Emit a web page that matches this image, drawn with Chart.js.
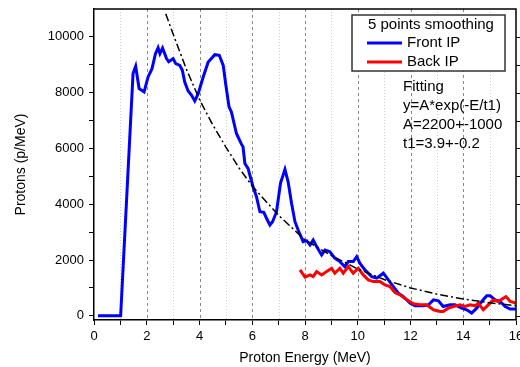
<!DOCTYPE html>
<html>
<head>
<meta charset="utf-8">
<script src="https://cdn.jsdelivr.net/npm/chart.js@4"></script>
<style>
  body { margin: 0; background: #fff; }
</style>
</head>
<body>
<canvas id="myChart" width="520" height="367"></canvas>
<script>
// Front IP, 5 points smoothing
frontE = [0.15,1.01,1.48,1.58,1.71,1.90,2.05,2.20,2.33,2.43,2.50,2.60,2.75,2.83,3.00,3.10,3.25,3.35,3.44,3.57,3.70,3.82,3.95,4.14,4.33,4.58,4.75,4.90,5.00,5.12,5.21,5.40,5.59,5.65,5.72,5.84,6.03,6.16,6.29,6.44,6.54,6.67,6.77,6.92,7.07,7.24,7.36,7.49,7.62,7.74,7.93,8.06,8.19,8.31,8.44,8.63,8.76,8.94,9.13,9.32,9.51,9.64,9.83,9.96,10.08,10.27,10.53,10.72,10.97,11.16,11.35,11.54,11.73,11.98,12.17,12.49,12.68,12.87,13.06,13.24,13.50,13.69,13.94,14.13,14.32,14.51,14.70,14.89,15.02,15.21,15.40,15.59,15.78,16.0]
frontV = [0,0,8685,8945,8147,8026,8563,8862,9400,9613,9400,9600,9220,9113,9220,9040,8980,8800,8383,8062,7907,7703,7967,8563,9100,9363,9340,8980,8265,7490,7310,6537,6154,6058,5463,5284,4627,4270,3732,3710,3496,3256,3375,3732,4748,5249,4806,4032,3375,3077,2660,2695,2540,2720,2480,2183,2360,2300,2064,1943,1764,1943,1943,2122,1885,1646,1406,1349,1528,1288,1048,812,690,454,358,358,394,572,537,333,394,394,275,215,97,275,512,716,716,572,512,333,240,240]

// Back IP
backE = [7.81,8.0,8.19,8.31,8.44,8.63,8.82,9.01,9.13,9.32,9.45,9.64,9.83,10.02,10.21,10.40,10.59,10.84,11.03,11.22,11.41,11.60,11.86,12.11,12.36,12.61,12.87,13.12,13.24,13.43,13.62,13.88,14.07,14.26,14.45,14.57,14.76,14.95,15.14,15.33,15.52,15.62,15.78,16.0]
backV = [1646,1384,1467,1406,1585,1467,1585,1706,1528,1706,1528,1764,1528,1706,1467,1288,1227,1227,1109,1048,834,751,572,429,394,394,215,154,154,275,333,394,333,394,358,454,215,394,572,512,633,690,512,454]

// fit curve
fitE = [2.72,3,3.5,4,4.5,5,5.5,6,7,8,9,10,11,12,13,14,15,16]
fitV = [10830,10100,8850,7750,6850,6050,5300,4650,3600,2720,2160,1680,1300,1000,780,600,470,360]

// ticks (labels only on the even ones)
xTicks = [0,1,2,3,4,5,6,7,8,9,10,11,12,13,14,15,16]
yTicks = [0,1000,2000,3000,4000,5000,6000,7000,8000,9000,10000]

fitText = ["Fitting", "y=A*exp(-E/t1)", "A=2200+-1000", "t1=3.9+-0.2"]

var FONT = "'Liberation Sans', Arial, sans-serif"

function pts(xs, ys) {
  return xs.map(function (x, i) { return {x: x, y: ys[i]} })
}

var framePlugin = {
  id: 'frame',
  beforeDatasetsDraw: function (chart) {
    var ctx = chart.ctx, a = chart.chartArea, xs = chart.scales.x
    ctx.save()
    xTicks.forEach(function (v) {
      if (v == 0 || v == 16) return
      var px = Math.round(xs.getPixelForValue(v)) + 0.5
      ctx.beginPath()
      if (v % 2 == 0) { ctx.strokeStyle = '#888'; ctx.setLineDash([3, 3]) }
      else { ctx.strokeStyle = '#d0d0d0'; ctx.setLineDash([1, 2]) }
      ctx.lineWidth = 1
      ctx.moveTo(px, a.top)
      ctx.lineTo(px, a.bottom)
      ctx.stroke()
    })
    ctx.restore()
  },
  afterDraw: function (chart) {
    var ctx = chart.ctx, a = chart.chartArea, ys = chart.scales.y
    ctx.save()
    ctx.strokeStyle = '#000'
    ctx.lineWidth = 1.5
    ctx.beginPath()
    ctx.moveTo(a.left, a.top)
    ctx.lineTo(a.right, a.top)
    ctx.lineTo(a.right, a.bottom)
    ctx.stroke()
    // right axis ticks
    ctx.lineWidth = 1
    yTicks.forEach(function (v) {
      var py = Math.round(ys.getPixelForValue(v)) + 0.5
      ctx.beginPath()
      ctx.moveTo(a.right, py)
      ctx.lineTo(a.right + 5, py)
      ctx.stroke()
    })

    // legend box
    ctx.fillStyle = '#fff'
    ctx.fillRect(352, 15, 153, 56)
    ctx.strokeStyle = '#333'
    ctx.lineWidth = 1.5
    ctx.strokeRect(352, 15, 153, 56)
    ctx.fillStyle = '#000'
    ctx.font = '15px ' + FONT
    ctx.textBaseline = 'middle'
    ctx.textAlign = 'left'
    ctx.fillText('5 points smoothing', 368, 25)
    var items = [chart.data.datasets[2], chart.data.datasets[1]]
    items.forEach(function (ds, i) {
      var y = 43 + i * 19
      ctx.strokeStyle = ds.borderColor
      ctx.lineWidth = 3
      ctx.beginPath()
      ctx.moveTo(367, y)
      ctx.lineTo(402, y)
      ctx.stroke()
      ctx.fillText(ds.label, 407, y)
    })
    fitText.forEach(function (t, i) {
      ctx.fillText(t, 403, 87 + i * 19)
    })
    ctx.restore()
  }
}

document.addEventListener('DOMContentLoaded', function () {
  var ctx = document.getElementById('myChart').getContext('2d')
  var myChart = new Chart(ctx, {
    type: 'line',
    data: {
      datasets: [
        {label: 'Fit', data: pts(fitE, fitV), borderColor: '#000', borderWidth: 1.5,
         borderDash: [8, 3, 2, 3], pointRadius: 0, tension: 0},
        {label: 'Back IP', data: pts(backE, backV), borderColor: '#ff0000', borderWidth: 3,
         pointRadius: 0, tension: 0},
        {label: 'Front IP', data: pts(frontE, frontV), borderColor: '#0000ff', borderWidth: 3,
         pointRadius: 0, tension: 0}
      ]
    },
    options: {
      responsive: false,
      animation: false,
      layout: {padding: {left: 0, right: 4, top: 9, bottom: 0}},
      plugins: {legend: {display: false}, tooltip: {enabled: false}},
      scales: {
        x: {
          type: 'linear', min: 0, max: 16,
          afterBuildTicks: function (s) { s.ticks = xTicks.map(function (v) { return {value: v} }) },
          ticks: {autoSkip: false, maxRotation: 0, padding: 4, color: '#000',
                  font: {family: FONT, size: 13},
                  callback: function (v) { return v % 2 == 0 ? String(v) : '' }},
          grid: {drawOnChartArea: false, tickLength: 5, tickColor: '#000', tickWidth: 1},
          border: {color: '#000', width: 1.5},
          title: {display: true, text: 'Proton Energy (MeV)', color: '#000',
                  font: {family: FONT, size: 14}, padding: {top: 0, bottom: 0}},
          afterFit: function (s) { s.height = 47; s.paddingLeft = 0; s.paddingRight = 0 }
        },
        y: {
          type: 'linear', min: -150, max: 11000,
          afterBuildTicks: function (s) { s.ticks = yTicks.map(function (v) { return {value: v} }) },
          ticks: {autoSkip: false, padding: 5, color: '#000',
                  font: {family: FONT, size: 13},
                  callback: function (v) { return v % 2000 == 0 ? String(v) : '' }},
          grid: {drawOnChartArea: false, tickLength: 5, tickColor: '#000', tickWidth: 1},
          border: {color: '#000', width: 1.5},
          title: {display: true, text: 'Protons (p/MeV)', color: '#000',
                  font: {family: FONT, size: 14}, padding: {top: 13, bottom: 0}},
          afterFit: function (s) { s.width = 94; s.paddingTop = 0; s.paddingBottom = 0 }
        }
      }
    },
    plugins: [framePlugin]
  })
})
</script>
</body>
</html>
